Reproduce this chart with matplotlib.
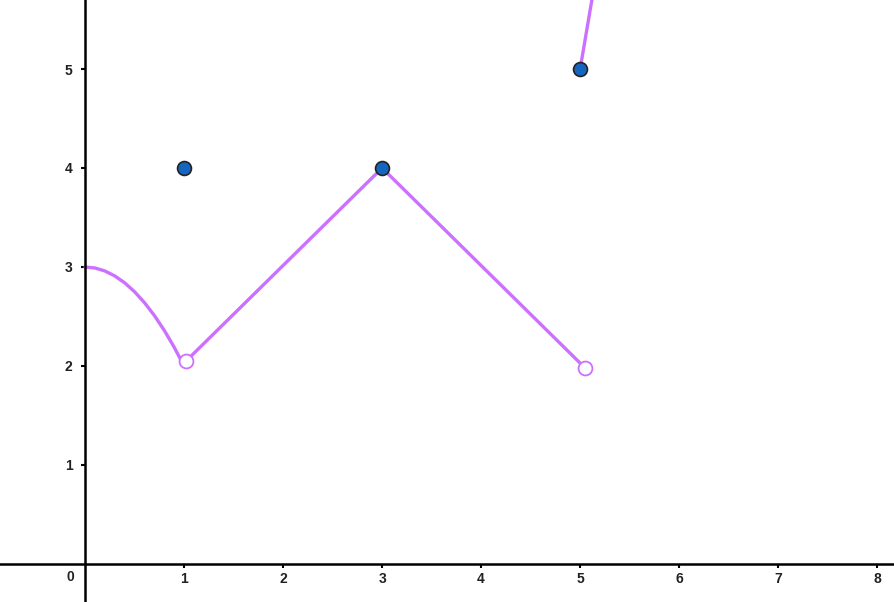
import matplotlib.pyplot as plt

# curve piece from (0,3) down to the open point near x=1
curve_x = [0, 0.1, 0.2, 0.3, 0.4, 0.5, 0.6, 0.7, 0.8, 0.9, 1.0]
curve_y = [3, 2.99, 2.96, 2.91, 2.84, 2.75, 2.64, 2.51, 2.36, 2.19, 2.0]

# straight pieces
zigzag_x = [1.02, 3, 5.05]
zigzag_y = [2.05, 4, 1.98]
ray_x = [5, 5.17]
ray_y = [5, 6]

# points
filled_x = [1, 3, 5]
filled_y = [4, 4, 5]
open_x = [1.02, 5.05]
open_y = [2.05, 1.98]

xticks = [1, 2, 3, 4, 5, 6, 7, 8]
yticks = [1, 2, 3, 4, 5]

LINE = '#cc70ff'
DOT = '#1565c0'
TXT = '#222222'

plt.rcParams['font.family'] = ['Liberation Sans', 'DejaVu Sans']

fig = plt.figure(figsize=(8.95, 6.02), dpi=100)
ax = fig.add_axes([0, 0, 1, 1])
ax.set_xlim(-0.859, 8.18)
ax.set_ylim(-0.384, 5.697)

ax.plot(curve_x, curve_y, color=LINE, lw=2.4, solid_capstyle='round', zorder=2)
ax.plot(zigzag_x, zigzag_y, color=LINE, lw=2.4, solid_joinstyle='round', zorder=2)
ax.plot(ray_x, ray_y, color=LINE, lw=2.4, zorder=2)

ax.scatter(open_x, open_y, s=100, facecolor='white', edgecolor=LINE, linewidth=1.3, zorder=3)
ax.scatter(filled_x, filled_y, s=100, facecolor=DOT, edgecolor='#222222', linewidth=1.2, zorder=4)

# axes through the origin
for side in ['top', 'right']:
    ax.spines[side].set_visible(False)
ax.spines['left'].set_position(('data', 0))
ax.spines['bottom'].set_position(('data', 0))
ax.spines['left'].set_linewidth(1.8)
ax.spines['bottom'].set_linewidth(1.8)

ax.set_xticks(xticks)
ax.set_yticks(yticks)
ax.set_xticklabels([str(t) for t in xticks], fontsize=10, fontweight='bold', color=TXT)
ax.set_yticklabels([str(t) for t in yticks], fontsize=10, fontweight='bold', color=TXT)
ax.tick_params(axis='both', direction='out', length=3, width=1.5, color='black')
ax.tick_params(axis='x', pad=3)
ax.tick_params(axis='y', pad=6)
ax.text(-0.15, -0.13, '0', fontsize=10, fontweight='bold', color=TXT, ha='center', va='center')

plt.savefig('out.png', dpi=100)
plt.close()
